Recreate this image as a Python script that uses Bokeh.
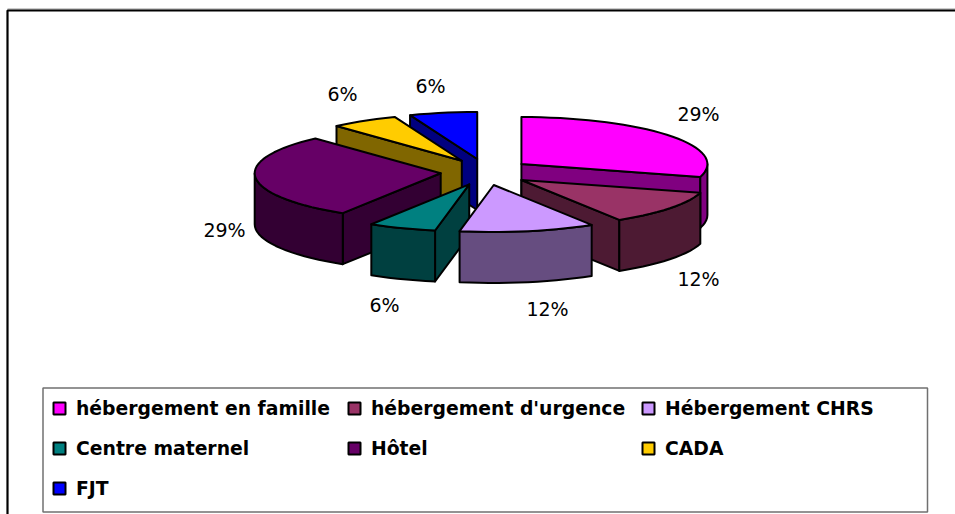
import numpy as np
from bokeh.plotting import figure
from bokeh.models import Range1d
from bokeh.core.properties import value
from bokeh.embed import file_html
from bokeh.resources import INLINE

categories = ["hébergement en famille", "hébergement d'urgence", "Hébergement CHRS",
              "Centre maternel", "Hôtel", "CADA", "FJT"]
counts = [5, 2, 2, 1, 5, 1, 1]
labels = ["29%", "12%", "12%", "6%", "29%", "6%", "6%"]
top_colors = ["#FF00FF", "#993366", "#CC99FF", "#008080", "#660066", "#FFCC00", "#0000FF"]
side_colors = ["#800080", "#4D1A33", "#664D80", "#004040", "#330033", "#806600", "#000080"]

# drawing order: back to front
order = [6, 5, 4, 0, 1, 3, 2]
WIDTH, HEIGHT = 955, 514
CX, CY = 485, 171.5     # pie centre (px from top-left)
RX, RY = 186, 47
EX, EY = 45, 13.2
DEPTH = 51
FONT = "DejaVu Sans"

p = figure(width=WIDTH, height=HEIGHT, x_range=Range1d(0, WIDTH), y_range=Range1d(HEIGHT, 0),
           toolbar_location=None, output_backend="svg", min_border=0)
p.axis.visible = False
p.grid.visible = False
p.outline_line_color = None
p.background_fill_color = "white"

# chart frame (runs off the window at right and bottom)
p.line([7, 955], [8.5, 8.5], line_color="#999999", line_width=1)
p.line([7, 7, 955], [514, 10, 10], line_color="black", line_width=2.2)

total = sum(counts)
edges = np.cumsum([0] + counts) / total * 2 * np.pi


def pt(t, ax, ay, r=1.0):
    return ax + r * RX * np.sin(t), ay - r * RY * np.cos(t)


def draw(xs, ys, color):
    p.patch(list(xs), list(ys), fill_color=color, line_color="black", line_width=2, line_join="round")


for i in order:
    a, b = edges[i], edges[i + 1]
    m = (a + b) / 2
    ax, ay = CX + EX * np.sin(m), CY - EY * np.cos(m)
    ts = np.linspace(a, b, max(int(np.degrees(b - a) / 3), 2) + 1)
    for t, vis in ((a, np.sin(a) < -1e-9), (b, np.sin(b) > 1e-9)):
        if vis:
            ex, ey = pt(t, ax, ay)
            draw([ax, ex, ex, ax], [ay, ey, ey + DEPTH, ay + DEPTH], side_colors[i])
    lo, hi = max(a, np.pi / 2), min(b, 3 * np.pi / 2)
    if hi > lo:
        tw = np.linspace(lo, hi, max(int(np.degrees(hi - lo) / 3), 2) + 1)
        wx, wy = pt(tw, ax, ay)
        draw(np.r_[wx, wx[::-1]], np.r_[wy, wy[::-1] + DEPTH], side_colors[i])
    fx, fy = pt(ts, ax, ay)
    draw(np.r_[ax, fx], np.r_[ay, fy], top_colors[i])

# percentage labels
lx = [698, 698, 547, 384, 224, 342, 430]
ly = [113, 278, 308, 304, 229, 93, 85]
p.text(lx, ly, text=labels, text_font=value(FONT), text_font_size="19px", text_align="center",
       text_baseline="middle", text_color="black")

# legend
p.quad(left=[42.5], right=[927], top=[387.5], bottom=[511.5], fill_color="white", line_color="#707070", line_width=1.5)
cols = [59, 354, 648]
rows = [408, 448, 488]
lgx = [cols[k % 3] for k in range(7)]
lgy = [rows[k // 3] for k in range(7)]
p.rect(lgx, lgy, width=12, height=12, fill_color=top_colors, line_color="black", line_width=2)
p.text([x + 16.5 for x in lgx], lgy, text=categories, text_font=value(FONT), text_font_size="18.8px",
       text_font_style="bold", text_baseline="middle", text_color="black")

open("out.html", "w").write(file_html(p, INLINE))
